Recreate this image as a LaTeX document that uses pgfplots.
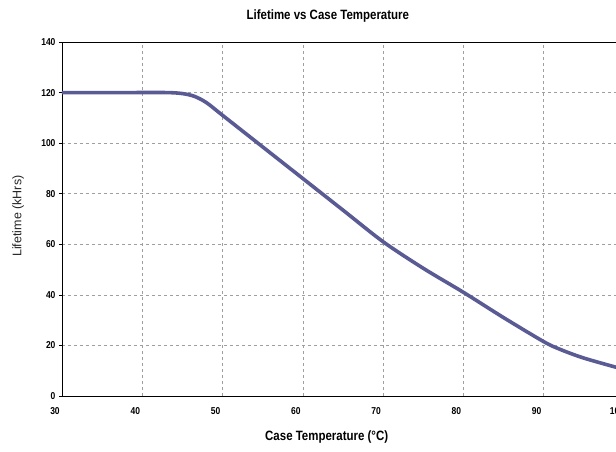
\documentclass[border=0pt]{standalone}
\usepackage{pgfplots}
\pgfplotsset{compat=1.18}
\usepackage{fontspec}
\setmainfont{Liberation Sans}
\newfontfamily\condf[FakeStretch=0.85]{Liberation Sans}
\usetikzlibrary{calc}
\definecolor{curve}{RGB}{90,90,148}
\begin{document}
\begin{tikzpicture}
\begin{axis}[name=ax,
  scale only axis, width=562pt, height=354pt,
  xmin=30, xmax=100, ymin=0, ymax=140,
  xtick={30,40,...,100}, ytick={0,20,...,140},
  grid=major, grid style={dashed, gray!75, line width=0.5pt},
  axis line style={black, line width=0.8pt},
  tick align=outside, major tick length=3pt,
  tick style={black, line width=0.5pt},
  xtick style={draw=none},
  /pgf/number format/assume math mode=true,
  tick label style={font=\condf\fontsize{10}{12}\selectfont\bfseries},
  xticklabel style={xshift=-7pt, yshift=-5pt},
  title={\condf\fontsize{13.5}{15}\selectfont\bfseries Lifetime vs Case Temperature},
  title style={at={(axis description cs:0.473,1)}, anchor=center, yshift=20pt},
  xlabel={\condf\fontsize{13.5}{15}\selectfont\bfseries Case Temperature (\textdegree C)},
  xlabel style={at={(axis description cs:0.471,0)}, anchor=center, yshift=-41pt},
  ylabel={\fontsize{12.5}{14}\selectfont\color{black!85} Lifetime (kHrs)},
  ylabel style={at={(axis description cs:-0.078,0.508)}, anchor=center},
]
\addplot[curve, line width=3.6pt, smooth, line cap=round] coordinates {
(30,120) (38,120) (43,120) (45,119.6) (46.5,118.5) (48,116) (50,111)
(55,98.5) (60,86) (65,73.5) (70,61) (75,50.5) (80,41) (85,31)
(90,21.5) (92,18.5) (95,15) (100,10.5)
};
\end{axis}
\pgfresetboundingbox
\path[use as bounding box] ($(ax.south west)+(-62pt,-56pt)$) rectangle ($(ax.south west)+(554pt,396pt)$);
\end{tikzpicture}
\end{document}
